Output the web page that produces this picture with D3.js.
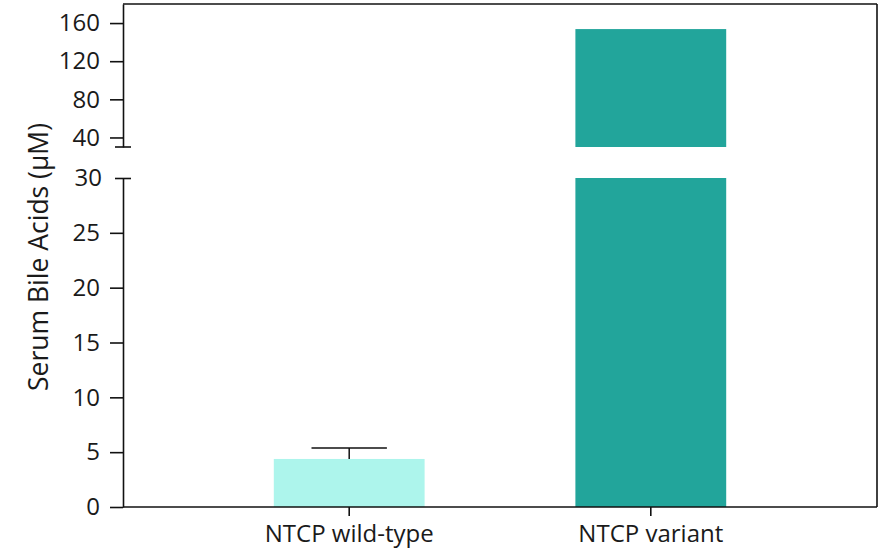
<!DOCTYPE html>
<html>
<head>
<meta charset="utf-8">
<script src="https://cdn.jsdelivr.net/npm/d3@7/dist/d3.min.js"></script>
<style>
  html, body { margin: 0; padding: 0; background: #fff; }
  svg { display: block; font-family: "Open Sans", "Noto Sans", sans-serif; }
</style>
</head>
<body>
<svg id="chart" width="884" height="551"></svg>
<script>
// Serum bile acids by NTCP genotype (broken y axis)
const categories = ["NTCP wild-type", "NTCP variant"];
const means = [4.38, 153.7];
const errorUpper = [5.38, null];
const colors = ["#adf5ec", "#22a59b"];
const lowTicks = [0, 5, 10, 15, 20, 25, 30];
const highTicks = [40, 80, 120, 160];
const lowDomain = [0, 30];
const highDomain = [30, 180];

const W = 884, H = 551;
const margin = { top: 4, right: 7, bottom: 44, left: 123 };
const breakTop = 147;   // bottom of the upper panel
const breakBottom = 178; // top of the lower panel
const innerW = W - margin.left - margin.right;
const bottomY = H - margin.bottom;
const tickFont = 24;

const svg = d3.select("#chart");
const g = svg.append("g");

const x = d3.scaleBand()
  .domain(categories)
  .range([margin.left, margin.left + innerW])
  .paddingInner(0.5)
  .paddingOuter(0.5);

const yLow = d3.scaleLinear().domain(lowDomain).range([bottomY, breakBottom]);
const yHigh = d3.scaleLinear().domain(highDomain).range([breakTop, margin.top]);

// bars: lower panel (clipped at the break value)
g.selectAll("rect.low")
  .data(categories)
  .join("rect")
  .attr("class", "low")
  .attr("x", d => x(d))
  .attr("width", x.bandwidth())
  .attr("y", (d, i) => yLow(Math.min(means[i], lowDomain[1])))
  .attr("height", (d, i) => yLow(0) - yLow(Math.min(means[i], lowDomain[1])))
  .attr("fill", (d, i) => colors[i]);

// bars: upper panel for values above the break
g.selectAll("rect.high")
  .data(categories.filter((d, i) => means[i] > highDomain[0]))
  .join("rect")
  .attr("class", "high")
  .attr("x", d => x(d))
  .attr("width", x.bandwidth())
  .attr("y", d => yHigh(means[categories.indexOf(d)]))
  .attr("height", d => yHigh(highDomain[0]) - yHigh(means[categories.indexOf(d)]))
  .attr("fill", d => colors[categories.indexOf(d)]);

// error bars (upper whisker only)
categories.forEach((c, i) => {
  if (errorUpper[i] == null) return;
  const cx = x(c) + x.bandwidth() / 2;
  const capHalf = x.bandwidth() / 4;
  g.append("line")
    .attr("x1", cx).attr("x2", cx)
    .attr("y1", yLow(errorUpper[i])).attr("y2", yLow(means[i]))
    .attr("stroke", "#111").attr("stroke-width", 1.5);
  g.append("line")
    .attr("x1", cx - capHalf).attr("x2", cx + capHalf)
    .attr("y1", yLow(errorUpper[i])).attr("y2", yLow(errorUpper[i]))
    .attr("stroke", "#111").attr("stroke-width", 1.5);
});

// frame: top and right edges
g.append("line")
  .attr("x1", margin.left).attr("x2", margin.left + innerW)
  .attr("y1", margin.top).attr("y2", margin.top)
  .attr("stroke", "#111").attr("stroke-width", 1.6);
g.append("line")
  .attr("x1", margin.left + innerW).attr("x2", margin.left + innerW)
  .attr("y1", margin.top).attr("y2", bottomY)
  .attr("stroke", "#111").attr("stroke-width", 1.6);

function styleAxis(sel) {
  sel.select(".domain").attr("stroke", "#111").attr("stroke-width", 1.6);
  sel.selectAll(".tick line").attr("stroke", "#111").attr("stroke-width", 1.6);
  sel.selectAll(".tick text")
    .attr("fill", "#1a1a1a")
    .style("font-size", tickFont + "px")
    .style("font-family", "'Open Sans', 'Noto Sans', sans-serif");
}

// lower y axis
const axLow = g.append("g")
  .attr("transform", `translate(${margin.left},0)`)
  .call(d3.axisLeft(yLow).tickValues(lowTicks).tickSize(13).tickPadding(10).tickSizeOuter(0));
styleAxis(axLow);
// the break value gets a crossing mark instead of a plain tick
axLow.selectAll(".tick").filter(d => d === lowDomain[1])
  .select("line").attr("x1", -8).attr("x2", 8);
axLow.selectAll(".tick").filter(d => d === lowDomain[1])
  .select("text").attr("x", -21);

// upper y axis
const axHigh = g.append("g")
  .attr("transform", `translate(${margin.left},0)`)
  .call(d3.axisLeft(yHigh).tickValues(highTicks).tickSize(13).tickPadding(10).tickSizeOuter(0));
styleAxis(axHigh);
axHigh.append("line")
  .attr("x1", -8).attr("x2", 8)
  .attr("y1", yHigh(highDomain[0])).attr("y2", yHigh(highDomain[0]))
  .attr("stroke", "#111").attr("stroke-width", 1.6);

// x axis
const axX = g.append("g")
  .attr("transform", `translate(0,${bottomY})`)
  .call(d3.axisBottom(x).tickSize(9).tickPadding(9).tickSizeOuter(0));
styleAxis(axX);
axX.select(".domain").attr("d", `M${margin.left},0H${margin.left + innerW}`);

// y axis title
g.append("text")
  .attr("transform", `translate(48,257) rotate(-90)`)
  .attr("text-anchor", "middle")
  .attr("fill", "#1a1a1a")
  .style("font-size", "26.5px")
  .text("Serum Bile Acids (μM)");
</script>
</body>
</html>
